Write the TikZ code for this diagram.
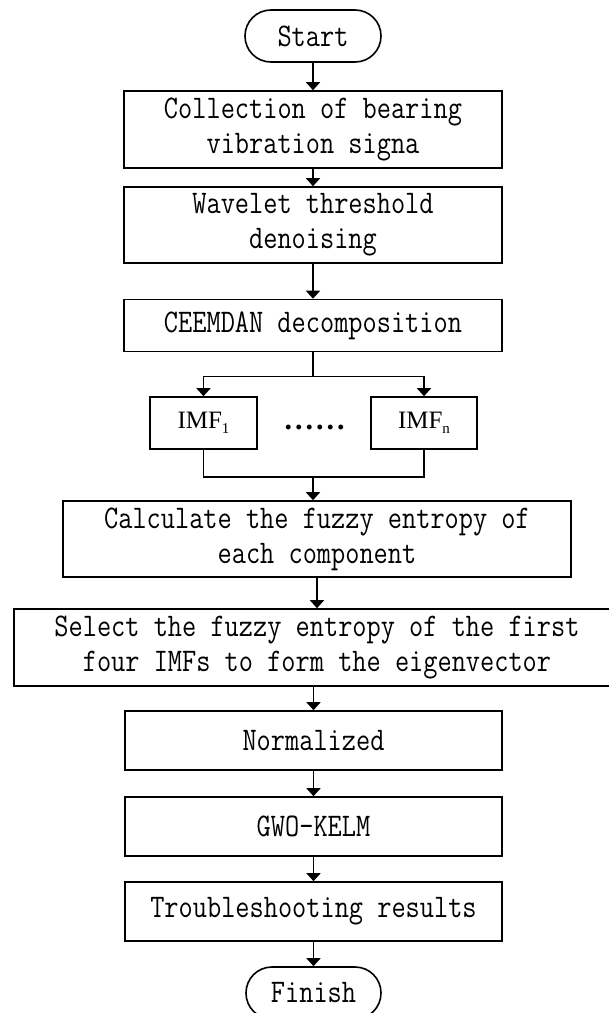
\documentclass[tikz,border=0pt]{standalone}
\usepackage{fontspec}
\usetikzlibrary{arrows.meta}
\newfontfamily\boxfont{Latin Modern Mono}[FakeStretch=0.835]
\newfontfamily\imffont{Liberation Serif}
\newcommand{\dotrow}{.\kern3pt.\kern3pt.\kern3pt.\kern3pt.\kern3pt.}
\newcommand{\imflabel}[1]{\imffont\fontsize{25pt}{25pt}\selectfont IMF\raisebox{-5pt}{\fontsize{15pt}{15pt}\selectfont #1}}
\tikzset{
  stepbox/.style={draw, line width=1.6pt, inner sep=0pt, align=center,
    font={\boxfont\fontsize{33pt}{35pt}\selectfont}},
  termbox/.style={stepbox, rounded corners=25.9pt},
  imfbox/.style={draw, line width=1.6pt, inner sep=0pt, minimum width=107pt, minimum height=52pt},
  link/.style={line width=1.6pt},
  arr/.style={line width=1.6pt, -{Triangle[width=14pt,length=8pt]}}
}
\begin{document}
\begin{tikzpicture}[x=1pt,y=-1pt]
\useasboundingbox (0,0) rectangle (609,1013);
\clip (0,0) rectangle (609,1013);
\fill[white] (0,0) rectangle (609,1013);

\node[termbox, minimum width=136pt, minimum height=52pt] (start) at (313,36) {Start};
\node[stepbox, minimum width=378pt, minimum height=77pt] (collect) at (313,129.5) {Collection of bearing\\vibration signa};
\node[stepbox, minimum width=378pt, minimum height=76pt] (wavelet) at (313,225) {Wavelet threshold\\denoising};
\node[stepbox, minimum width=378pt, minimum height=52pt] (ceemdan) at (313,325.5) {CEEMDAN decomposition};
\node[imfbox] (imf1) at (203.5,423) {\imflabel{1}};
\node[imfbox, minimum width=106pt] (imfn) at (424,423) {\imflabel{n}};
\node[inner sep=0pt, font={\imffont\bfseries\fontsize{30pt}{30pt}\selectfont}] (dots) at (314.5,427) {\dotrow};
\node[stepbox, minimum width=508pt, minimum height=76pt] (calc) at (317,539) {Calculate the fuzzy entropy of\\each component};
\node[stepbox, minimum width=606pt, minimum height=77pt] (select) at (317,647.5) {Select the fuzzy entropy of the first\\four IMFs to form the eigenvector};
\node[stepbox, minimum width=377pt, minimum height=59pt] (norm) at (313.5,740.5) {Normalized};
\node[stepbox, minimum width=377pt, minimum height=59pt] (gwo) at (313.5,826.5) {GWO-KELM};
\node[stepbox, minimum width=377pt, minimum height=59pt] (trouble) at (313.5,911.5) {Troubleshooting results};
\node[termbox, minimum width=135pt, minimum height=52pt] (finish) at (313.5,993) {Finish};

\coordinate (split) at (313,376.5);
\coordinate (merge) at (313,477);

\draw[arr] (start) -- (collect);
\draw[arr] (collect) -- (wavelet);
\draw[arr] (wavelet) -- (ceemdan);
\draw[link] (ceemdan.south) -- (split);
\draw[arr] (split) -| (imf1.north);
\draw[arr] (split) -| (imfn.north);
\draw[link] (imf1.south) |- (merge) -| (imfn.south);
\draw[arr] (merge) -- (merge |- calc.north);
\draw[arr] (calc) -- (select);
\draw[arr] (select.south -| norm.north) -- (norm.north);
\draw[arr] (norm) -- (gwo);
\draw[arr] (gwo) -- (trouble);
\draw[arr] (trouble) -- (finish);
\end{tikzpicture}
\end{document}
